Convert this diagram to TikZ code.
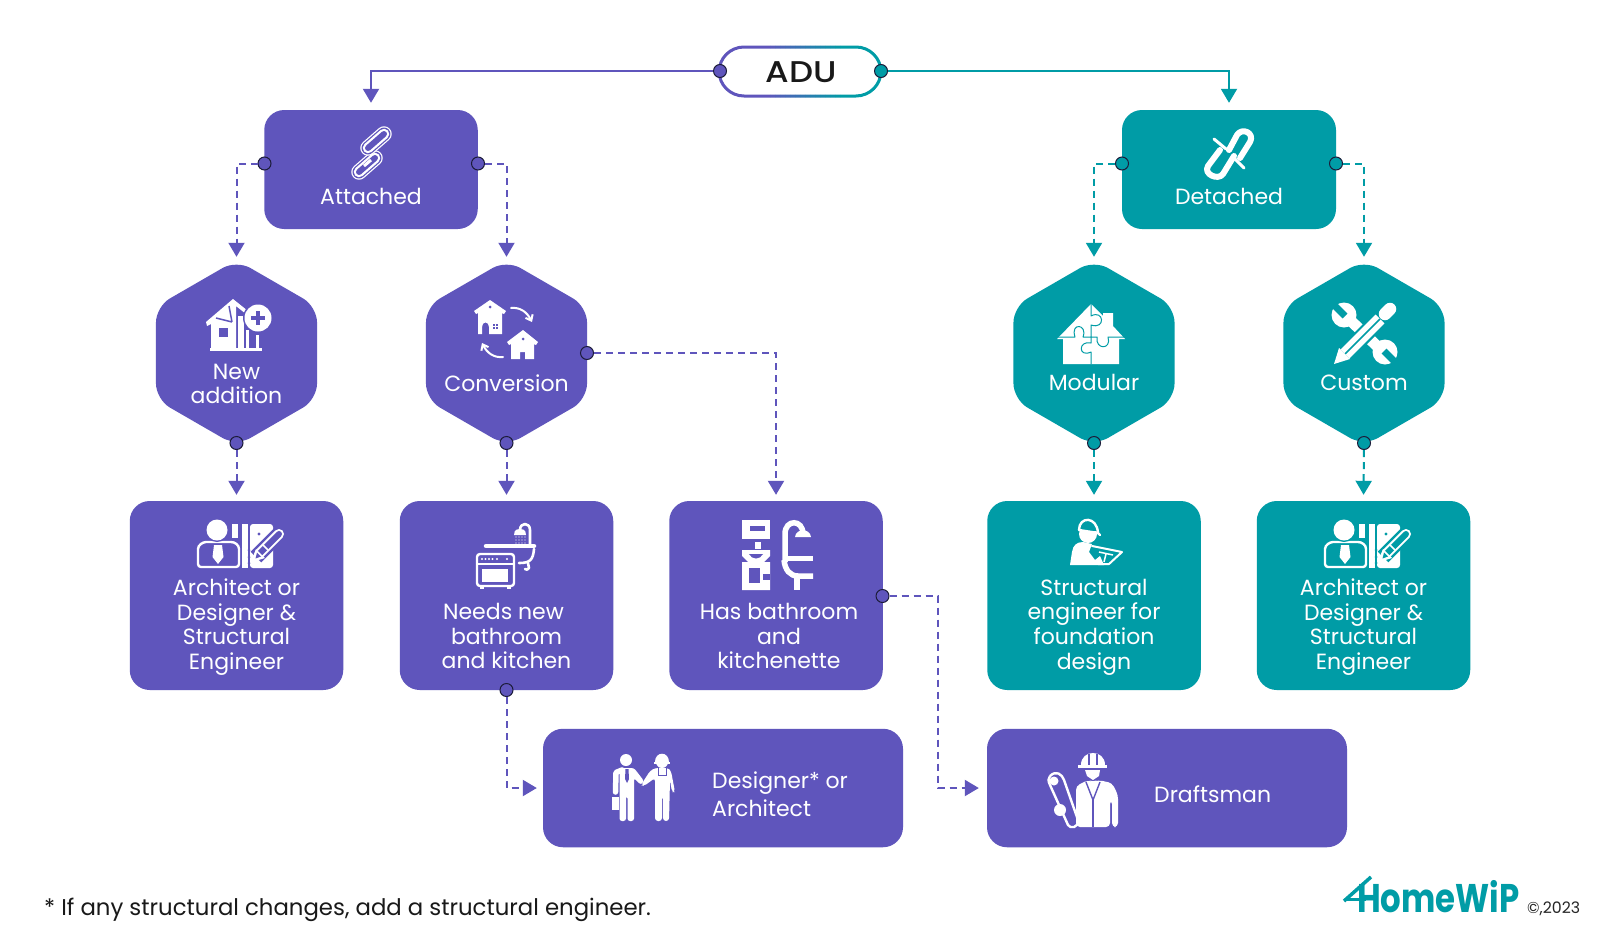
\documentclass[tikz,border=0pt]{standalone}
\usepackage{fontspec}
\setmainfont{Poppins}
\newfontfamily\popmed{Poppins Medium}
\usetikzlibrary{arrows.meta,shapes.geometric,calc}
\definecolor{mypurple}{HTML}{5F55BC}
\definecolor{myteal}{HTML}{009CA6}
\definecolor{myink}{HTML}{1C1C3A}
\tikzset{
  box/.style={shape=rectangle,fill=#1,draw=none,rounded corners=20pt,inner sep=0pt},
  hexa/.style={shape=regular polygon,regular polygon sides=6,shape border rotate=30,minimum size=186pt,inner sep=0pt,fill=#1,draw=none,rounded corners=16pt},
  port/.style={shape=circle,minimum size=13pt,inner sep=0pt,fill=#1,draw=myink,line width=1pt},
  solidconn/.style={draw=#1,line width=2pt,-{Triangle[length=14pt,width=16pt]}},
  dashconn/.style={draw=#1,line width=2pt,dash pattern=on 7pt off 5pt,-{Triangle[length=14pt,width=16pt,sep=0pt]}},
  lbl/.style={text=white,align=center,inner sep=0pt,font=\fontsize{22}{24.7}\selectfont},
  wl/.style={draw=white,line width=#1,line cap=round,line join=round},
  wf/.style={fill=white,draw=none},
}
% architect icon, #1 = background colour
\newcommand{\icnArch}[1]{
  \fill[white] (232,524) rectangle (238,538);
  \fill[white] (242,524) rectangle (248,568);
  \fill[white,rounded corners=3pt] (250,524) -- (273,524) -- (273,568) -- (250,568) -- cycle;
  \fill[#1] (259,534) circle (1.6);
  \foreach \yy in {550,557,563} \fill[#1] (249,\yy) circle (1.5);
  \draw[#1,line width=15pt] (256,557) -- (280,533);
  \draw[white,line width=10pt,line cap=round] (259,554) -- (279,534);
  \draw[#1,line width=6pt,line cap=round] (259,554) -- (279,534);
  \fill[white] (252,562) -- (256,549) -- (265,558) -- cycle;
  \fill[#1] (255.5,558.5) -- (257,552.5) -- (261,556.5) -- cycle;
  \draw[white,line width=1.5pt] (263,545) -- (268,550);
  \draw[white,line width=2.4pt,rounded corners=3pt] (198,567) -- (198,552) .. controls (198,545) and (203,542) .. (209,542) -- (228,542) .. controls (235,542) and (239,545) .. (239,552) -- (239,567) -- cycle;
  \fill[#1] (217,530) circle (12);
  \fill[white] (217,530) circle (10.5);
  \fill[white] (214,545) -- (222,545) -- (223.5,557) -- (218,564) -- (212.5,557) -- cycle;
}
\begin{document}
\begin{tikzpicture}[x=1pt,y=-1pt]
\useasboundingbox (0,0) rectangle (1600,932);
\fill[white] (0,0) rectangle (1600,932);

% ---------- shapes
\node[box=mypurple,minimum width=213.5pt,minimum height=119pt] (attached) at (371,169.5) {};
\node[box=myteal,minimum width=214pt,minimum height=119pt] (detached) at (1229,169.5) {};
\node[hexa=mypurple] (newadd) at (236.5,353) {};
\node[hexa=mypurple] (conv) at (506.5,353) {};
\node[hexa=myteal] (modular) at (1094,353) {};
\node[hexa=myteal] (custom) at (1364,353) {};
\node[box=mypurple,minimum width=213.5pt,minimum height=189pt] (archa) at (236.5,595.5) {};
\node[box=mypurple,minimum width=213.5pt,minimum height=189pt] (needs) at (506.5,595.5) {};
\node[box=mypurple,minimum width=213.5pt,minimum height=189pt] (hasbath) at (776,595.5) {};
\node[box=myteal,minimum width=213.5pt,minimum height=189pt] (struct) at (1094,595.5) {};
\node[box=myteal,minimum width=213.5pt,minimum height=189pt] (archb) at (1363.5,595.5) {};
\node[box=mypurple,minimum width=360pt,minimum height=118.5pt] (designer) at (723,788) {};
\node[box=mypurple,minimum width=360pt,minimum height=118.5pt] (drafts) at (1167,788) {};

% ---------- ADU pill with colour blend
\node[shape=rectangle,rounded corners=25pt,fill=white,draw=none,minimum width=164pt,minimum height=50pt,inner sep=0pt] (adu) at (800,71) {};
\foreach \i in {0,...,15}{
  \pgfmathsetmacro{\pp}{\i*100/15}
  \pgfmathsetmacro{\xa}{\i==0 ? 700 : 765+\i*5}
  \pgfmathsetmacro{\xb}{\i==15 ? 900 : 770+\i*5}
  \begin{scope}
    \clip (\xa,40) rectangle (\xb,105);
    \draw[line width=3pt,rounded corners=25pt,draw=myteal!\pp!mypurple] (719,47) rectangle (881,96);
  \end{scope}
}
\node[xscale=1.13,font=\popmed\fontsize{30}{30}\selectfont,text=black!90,inner sep=0pt] (adutxt) at (801,72) {ADU};

% ---------- ports
\node[port=mypurple] (padul) at (720,71) {};
\node[port=myteal] (padur) at (881,71) {};
\node[port=mypurple] (patl) at (264.5,163.5) {};
\node[port=mypurple] (patr) at (478,163.5) {};
\node[port=myteal] (pdel) at (1122,163.5) {};
\node[port=myteal] (pder) at (1336,163.5) {};
\node[port=mypurple] (pnew) at (236.5,443) {};
\node[port=mypurple] (pconv) at (506.5,443) {};
\node[port=mypurple] (pconr) at (587,353) {};
\node[port=myteal] (pmod) at (1094,443) {};
\node[port=myteal] (pcus) at (1364,443) {};
\node[port=mypurple] (pneeds) at (506.5,690) {};
\node[port=mypurple] (phas) at (882.5,596) {};

% ---------- connectors
\draw[solidconn=mypurple,shorten >=7pt] (padul) -| (attached.north);
\draw[solidconn=myteal,shorten >=7pt] (padur) -| (detached.north);
\draw[dashconn=mypurple,shorten >=3pt] (patl) -| (newadd.north);
\draw[dashconn=mypurple,shorten >=3pt] (patr) -| (conv.north);
\draw[dashconn=myteal,shorten >=3pt] (pdel) -| (modular.north);
\draw[dashconn=myteal,shorten >=3pt] (pder) -| (custom.north);
\draw[dashconn=mypurple,shorten >=6pt] (pnew) -- (archa.north);
\draw[dashconn=mypurple,shorten >=6pt] (pconv) -- (needs.north);
\draw[dashconn=myteal,shorten >=6pt] (pmod) -- (struct.north);
\draw[dashconn=myteal,shorten >=6pt] (pcus) -- (archb.north);
\draw[dashconn=mypurple,shorten >=6pt] (pconr) -| (hasbath.north);
\draw[dashconn=mypurple,shorten >=6pt] (pneeds) |- (designer.west);
\draw[dashconn=mypurple,shorten >=8pt] (phas) -| (938,700) |- (drafts.west);

% ---------- labels
\node[lbl] (tattached) at (371,196) {Attached};
\node[lbl] (tdetached) at (1229,196) {Detached};
\node[lbl] (tnew) at (236.5,384) {New\\addition};
\node[lbl] (tconv) at (506.5,383) {Conversion};
\node[lbl] (tmod) at (1094,382) {Modular};
\node[lbl] (tcus) at (1364,383) {Custom};
\node[lbl] (tarcha) at (236.5,627) {Architect or\\Designer \&\\Structural\\Engineer};
\node[lbl] (tneeds) at (506.5,636) {Needs new\kern6pt\\bathroom\\and kitchen};
\node[lbl] (thas) at (779,636) {Has bathroom\\and\\kitchenette};
\node[lbl] (tstruct) at (1094,627) {Structural\\engineer for\\foundation\\design};
\node[lbl] (tarchb) at (1363.5,627) {Architect or\\Designer \&\\Structural\\Engineer};
\node[lbl,align=left,anchor=west] (tdes) at (712,794) {Designer* or\\[2.8pt]Architect};
\node[lbl,anchor=west] (tdraft) at (1154,794) {Draftsman};
\node[inner sep=0pt,anchor=west,font=\fontsize{22.8}{24}\selectfont,text=black!90] (tfoot) at (44,910) {* If any structural changes, add a structural engineer.};
\node[inner sep=0pt,anchor=base west,xscale=.81,font=\bfseries\fontsize{40}{40}\selectfont,text=myteal] (tlogo) at (1357,912) {HomeWiP};
\node[inner sep=0pt,anchor=base west,font=\fontsize{15.8}{15.8}\selectfont,text=black!85] (tcopy) at (1527,913) {©,2023};
\draw[myteal,line width=3.5pt] (1344,901) -- (1371,877);
\draw[myteal,line width=3pt] (1345,899) -- (1366,899);

% ---------- icon: chain link (attached)
\foreach \a/\b/\c/\d in {359/172/375/158,368/148/384/134}{
  \draw[white,line width=15.5pt,line cap=round] (\a,\b) -- (\c,\d);
  \draw[mypurple,line width=13pt,line cap=round] (\a,\b) -- (\c,\d);
  \draw[white,line width=10.5pt,line cap=round] (\a,\b) -- (\c,\d);
  \draw[mypurple,line width=6pt,line cap=round] (\a,\b) -- (\c,\d);
}
\draw[white,line width=3pt] (371,160) -- (364,166);
% ---------- icon: broken link (detached)
\draw[wl=6pt] (1229,150) -- (1237,135) .. controls (1242,127) and (1255,133) .. (1250,142) -- (1240,158);
\draw[wl=6pt] (1234,156) -- (1223,174) .. controls (1218,181) and (1203,174) .. (1208,166) -- (1220,150);
\draw[wl=3pt] (1214,139) -- (1226,149);
\draw[wl=3pt] (1234,158) -- (1244,168);

% ---------- icon: new addition
\fill[white] (233,299) -- (248,311) -- (246,314) -- (236,306) -- (236,348) -- (211,348) -- (211,324) -- (207,326) -- (206,322) -- cycle;
\fill[mypurple] (219,328) rectangle (228,337);
\draw[mypurple,line width=1.5pt] (216,318) -- (232,322) (229,306) -- (232,322);
\fill[white] (238,316) rectangle (244,348);
\fill[white] (246,330) rectangle (249,348);
\fill[white] (256,335) rectangle (259,348);
\fill[white] (210,348) rectangle (262,351);
\fill[mypurple] (258,318) circle (15);
\fill[white] (258,318) circle (13.5);
\draw[mypurple,line width=3.5pt] (251,318) -- (265,318) (258,311) -- (258,325);

% ---------- icon: conversion
\fill[white] (490,300) -- (506,311) -- (504,314) -- (502,313) -- (502,334) -- (489,334) -- (489,327) .. controls (489,321) and (482,321) .. (482,327) -- (482,334) -- (478,334) -- (478,313) -- (476,314) -- (474,311) -- cycle;
\fill[mypurple] (490,307) circle (1.5);
\foreach \xx/\yy in {492.5/324,495.5/324,492.5/327,495.5/327} \fill[mypurple] (\xx,\yy) rectangle ++(2,2);
\fill[white] (523,330) -- (538,342) -- (536,345) -- (534,344) -- (534,359) -- (525,359) -- (525,352) -- (520,352) -- (520,359) -- (511,359) -- (511,344) -- (509,345) -- (507,342) -- cycle;
\fill[mypurple] (523,339) circle (1.5);
\draw[white,line width=2pt,line cap=round,-{Straight Barb[length=5pt,width=8pt]}] (511,308) .. controls (520,307) and (527,312) .. (532,322);
\draw[white,line width=2pt,line cap=round,-{Straight Barb[length=5pt,width=8pt]}] (503,357) .. controls (494,358) and (487,353) .. (482,343);

% ---------- icon: modular house
\fill[white] (1091,304) -- (1103,316) -- (1103,313) -- (1113,313) -- (1113,326) -- (1125,339) -- (1119,339) -- (1119,364) -- (1063,364) -- (1063,339) -- (1057,339) -- cycle;
\draw[myteal,line width=1pt,line join=round] (1091,304) -- (1091,316) .. controls (1104,309) and (1106,330) .. (1091,325) -- (1091,337)
   (1091,337) -- (1083,337) .. controls (1088,324) and (1070,322) .. (1075,337) -- (1058,337)
   (1091,337) -- (1097,337) .. controls (1095,350) and (1112,350) .. (1108,337) -- (1124,337)
   (1091,337) -- (1091,343) .. controls (1078,340) and (1078,358) .. (1091,352) -- (1091,364);

% ---------- icon: tools
\draw[white,line width=11pt] (1348,318) -- (1380,349);
\fill[white] (1344,315) circle (12.5);
\fill[white] (1385,352) circle (12.5);
\draw[myteal,line width=7pt] (1345,316) -- (1333,304);
\draw[myteal,line width=7pt] (1384,351) -- (1398,365);
\draw[myteal,line width=17pt] (1346,353) -- (1389,310);
\draw[white,line width=12.5pt] (1345,354) -- (1380,319);
\draw[myteal,line width=1.5pt] (1343,356) -- (1380,319);
\draw[white,line width=12.5pt,line cap=round] (1385,314) -- (1390,309);
\fill[white] (1334,364) -- (1339,348) -- (1350,359) -- cycle;

% ---------- icon: architect (purple and teal boxes)
\icnArch{mypurple}
\begin{scope}[shift={(1127,0)}]
  \icnArch{myteal}
\end{scope}

% ---------- icon: shower and stove
\draw[wl=2.4pt,rounded corners=3pt] (477,554) rectangle (514,586);
\draw[white,line width=2pt] (477,564) -- (514,564);
\foreach \xx in {482,485.5,489,492.5,497,507} \fill[white] (\xx,559) circle (1.1);
\fill[white] (482,569) rectangle (508,582);
\fill[white] (480,586) rectangle (484,589);
\fill[white] (507,586) rectangle (511,589);
\draw[wl=4.5pt] (486,546) -- (534,546);
\draw[wl=2.6pt] (530,546) -- (530,530) .. controls (530,522) and (520,522) .. (520,530);
\fill[white] (520,529) .. controls (526,529) and (526,533) .. (526,535) -- (514,535) .. controls (514,533) and (514,529) .. (520,529);
\foreach \xx in {516,519,522,525} \foreach \yy in {537,540,543} \fill[white] (\xx,\yy) circle (0.7);
\draw[wl=2.6pt] (534,549) .. controls (533,560) and (530,563) .. (519,563);
\draw[wl=2.6pt] (528,563) -- (529,568) .. controls (528,570) and (526,570) .. (525,569);

% ---------- icon: bathroom
\fill[white] (742,520) rectangle (770,539);
\fill[mypurple] (750,526) rectangle (765,531);
\fill[white] (755,542) rectangle (761,549);
\fill[white] (742,550) -- (770,550) -- (770,556) -- (764,562) -- (770,562) -- (770,590) -- (742,590) -- (742,562) -- (748,562) -- (742,556) -- cycle;
\fill[mypurple] (749,554) .. controls (752,560) and (760,560) .. (763,554) -- cycle;
\fill[mypurple] (749,568) rectangle (760,583);
\fill[mypurple] (763,574) rectangle (770,580);
\draw[white,line width=5.5pt] (785,562) -- (785,534) .. controls (785,519) and (803,519) .. (803,534);
\fill[white] (795,537) .. controls (796,528) and (810,528) .. (811,537) -- cycle;
\fill[white] (785,556) rectangle (813,561);
\draw[white,line width=5.5pt] (784,560) .. controls (785,570) and (790,576) .. (798,576) -- (813,576);
\draw[white,line width=5.5pt] (797,576) -- (797,590);

% ---------- icon: structural engineer
\fill[white] (1088,534) circle (9);
\fill[myteal] (1077,522) rectangle (1101,531);
\draw[wl=2.4pt] (1079,530) .. controls (1079,516) and (1097,516) .. (1098,533) -- (1100,535);
\draw[wl=2.4pt] (1079,530) -- (1098,533);
\fill[white] (1070,565) -- (1072,552) .. controls (1073,545) and (1077,542) .. (1083,542) -- (1092,544) -- (1089,552) -- (1095,560) -- (1100,556) -- (1104,565) -- cycle;
\draw[wl=2pt] (1092,546) -- (1122,552) -- (1109,564) -- (1098,564);
\draw[white,line width=1.5pt] (1099,552) -- (1113,555) (1106,554) -- (1104,562);

% ---------- icon: handshake
\fill[white] (626,760) circle (6);
\fill[white,rounded corners=2.5pt] (619.5,768) -- (634,768) -- (644,781) -- (641,785) -- (634,778) -- (634,821) -- (627.5,821) -- (627.5,796) -- (626,796) -- (626,821) -- (619.5,821) -- cycle;
\draw[wl=5.5pt] (622,770) -- (616,772.5) -- (615.5,792);
\fill[mypurple] (625.5,769) -- (628.5,769) -- (629,779) -- (627,783) -- (625,779) -- cycle;
\fill[white] (612,797) rectangle (618.5,810);
\fill[white] (662,762) circle (6);
\fill[white] (655,762) .. controls (655,751) and (669,751) .. (669,762) -- cycle;
\fill[white] (654,762) rectangle (670,763.5);
\fill[white,rounded corners=3pt] (675,792) -- (671,771) -- (668,768) -- (655,768) -- (650,771) -- (641,785) -- (644,786) -- (655,778) -- (655,821) -- (662,821) -- (662,796) -- (663,796) -- (663,821) -- (669,821) -- (670,780) -- (672,792) -- cycle;
\draw[mypurple,line width=1pt] (658,768) -- (658,775) -- (666,775) -- (666,768);

% ---------- icon: draftsman
\fill[white] (1081,765) .. controls (1081,749) and (1105,749) .. (1105,765) -- cycle;
\fill[white] (1078,765) rectangle (1107,768);
\draw[mypurple,line width=1.5pt] (1089,754) -- (1089,765) (1097,754) -- (1097,765);
\fill[white] (1085,770) -- (1100,770) -- (1099,776) -- (1093,780) -- (1087,776) -- cycle;
\fill[white,rounded corners=4pt] (1076,827) -- (1076,786) -- (1088,780) -- (1093,782) -- (1098,780) -- (1112,783) -- (1118,795) -- (1118,827) -- (1112,827) -- (1112,800) -- (1110,800) -- (1110,827) -- cycle;
\draw[mypurple,line width=1.4pt] (1086,782) -- (1093,800) -- (1100,782);
\draw[mypurple,line width=1.3pt] (1093,800) -- (1093,827);
\draw[white,line width=2.4pt,line join=round] (1050,776) .. controls (1056,770) and (1062,774) .. (1064,780) -- (1078,820) .. controls (1079,828) and (1070,829) .. (1068,825) -- (1050,785) .. controls (1048,781) and (1048,778) .. (1050,776);
\fill[white] (1054,781) circle (4.5);
\fill[white] (1060,810) circle (6);
\end{tikzpicture}
\end{document}
